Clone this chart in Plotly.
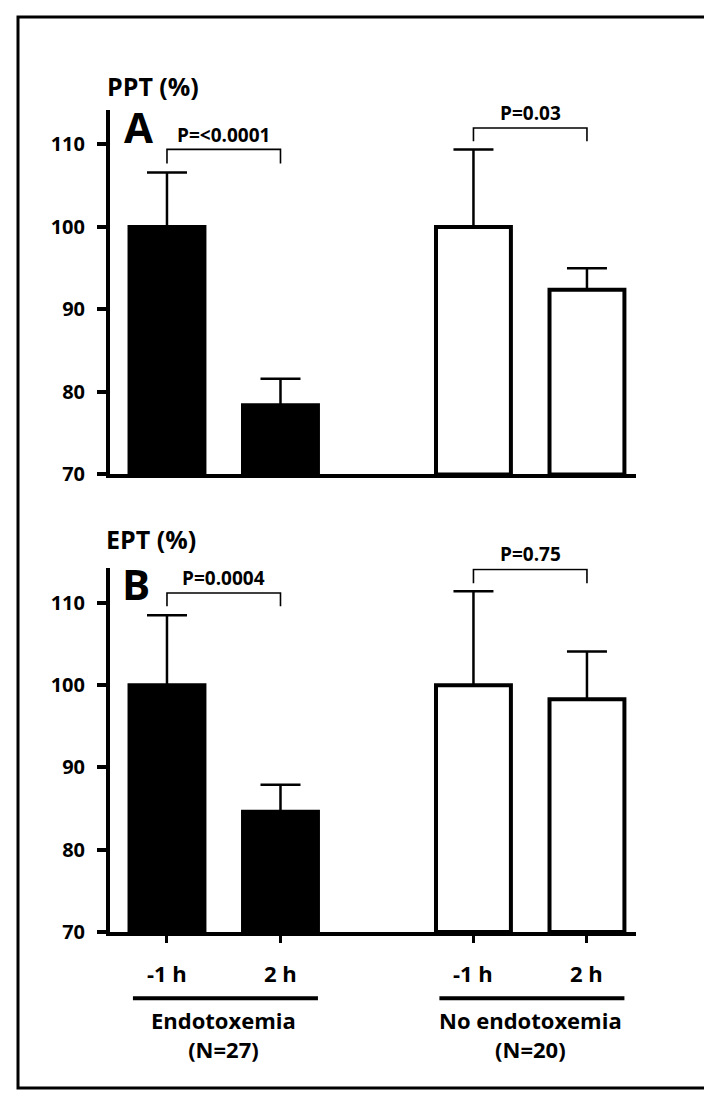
import plotly.graph_objects as go

# ---------------- data ----------------
time_labels = ["-1 h", "2 h", "-1 h", "2 h"]
group_labels = ["Endotoxemia<br>(N=27)", "No endotoxemia<br>(N=20)"]
bar_pos = [1, 2, 3.7, 4.7]
bar_colors = ["black", "black", "white", "white"]

ppt_mean = [100, 78.4, 100, 92.4]
ppt_err = [6.6, 3.2, 9.4, 2.6]

ept_mean = [100, 84.6, 100, 98.3]
ept_err = [8.5, 3.3, 11.4, 5.8]

p_ppt = ["P=<0.0001", "P=0.03"]
p_ept = ["P=0.0004", "P=0.75"]

y_ticks = [70, 80, 90, 100, 110]

# ---------------- layout constants ----------------
W, H = 712, 1103
FONT = "Open Sans"
x_dom = [102 / W, 628 / W]
top_dom = [1 - 472 / H, 1 - 103 / H]
bot_dom = [1 - 935 / H, 1 - 567 / H]
x_rng = [0.498, 5.132]
y_rng = [70, 114.2]


def dom_frac(v):
    return (v - y_rng[0]) / (y_rng[1] - y_rng[0])


def fnt(size):
    return dict(family=FONT, size=size, color="black", weight="bold")


fig = go.Figure()

for mean, err, xa, ya in [(ppt_mean, ppt_err, "x", "y"), (ept_mean, ept_err, "x2", "y2")]:
    fig.add_trace(go.Bar(
        x=bar_pos, y=[m - 70 for m in mean], base=70,
        width=0.66,
        marker=dict(color=bar_colors, line=dict(color="black", width=4)),
        error_y=dict(type="data", symmetric=False, array=err,
                     arrayminus=[0] * len(err), color="black",
                     thickness=2.5, width=20),
        xaxis=xa, yaxis=ya, showlegend=False, hoverinfo="skip",
    ))

axis_common = dict(showline=True, linecolor="black", linewidth=4,
                   showgrid=False, zeroline=False)
yaxis_common = dict(range=y_rng, tickvals=y_ticks, ticks="outside", ticklen=9,
                    tickwidth=4, tickcolor="black", ticklabelstandoff=8,
                    tickfont=fnt(20), **axis_common)

fig.update_layout(
    width=W, height=H,
    margin=dict(l=0, r=0, t=0, b=0),
    paper_bgcolor="white", plot_bgcolor="white",
    font=dict(family=FONT, color="black", weight="bold"),
    xaxis=dict(domain=x_dom, range=x_rng, anchor="y", showticklabels=False,
               ticks="", **axis_common),
    yaxis=dict(domain=top_dom, anchor="x", **yaxis_common),
    xaxis2=dict(domain=x_dom, range=x_rng, anchor="y2", tickvals=bar_pos,
                ticks="outside", ticklen=7, tickwidth=3, tickcolor="black",
                showticklabels=False, **axis_common),
    yaxis2=dict(domain=bot_dom, anchor="x2", **yaxis_common),
)

shapes = []
annotations = []

# significance brackets
bracket_specs = [
    ("x", "y", p_ppt, [(109.4, 107.7, 111.1), (112.0, 110.4, 113.8)]),
    ("x2", "y2", p_ept, [(111.2, 109.6, 113.0), (114.05, 112.4, 115.9)]),
]
for xr, yr, ptxt, specs in bracket_specs:
    for k, (yh, yl, yt) in enumerate(specs):
        a, b = bar_pos[2 * k], bar_pos[2 * k + 1]
        shapes.append(dict(type="path", xref=xr, yref=yr,
                           path=f"M {a} {yl} L {a} {yh} L {b} {yh} L {b} {yl}",
                           line=dict(color="black", width=1.6)))
        annotations.append(dict(x=(a + b) / 2, y=dom_frac(yt), xref=xr,
                                yref=yr + " domain",
                                text=ptxt[k], showarrow=False, font=fnt(19),
                                xanchor="center", yanchor="middle"))

# panel letters
annotations.append(dict(x=0.745, y=dom_frac(112.2), xref="x", yref="y domain",
                        text="A", showarrow=False, font=fnt(42),
                        xanchor="center", yanchor="middle"))
annotations.append(dict(x=0.73, y=dom_frac(112.3), xref="x2", yref="y2 domain",
                        text="B", showarrow=False, font=fnt(42),
                        xanchor="center", yanchor="middle"))

# y titles
annotations.append(dict(x=97 / W, y=1 - 79 / H, xref="paper", yref="paper", text="PPT (%)",
                        showarrow=False, xanchor="left", yanchor="middle", font=fnt(25)))
annotations.append(dict(x=96 / W, y=1 - 537 / H, xref="paper", yref="paper", text="EPT (%)",
                        showarrow=False, xanchor="left", yanchor="middle", font=fnt(25)))

# x tick labels (time points)
for p, t in zip(bar_pos, time_labels):
    annotations.append(dict(x=p, y=1 - 977 / H, xref="x2", yref="paper", text=t,
                            showarrow=False, xanchor="center", yanchor="middle",
                            font=fnt(22)))

# group lines and labels
for g in range(2):
    a, b = bar_pos[2 * g], bar_pos[2 * g + 1]
    shapes.append(dict(type="line", xref="x2", yref="paper",
                       x0=a - 0.3, x1=b + 0.33, y0=1 - 1002 / H, y1=1 - 1002 / H,
                       line=dict(color="black", width=4)))
    annotations.append(dict(x=(a + b) / 2, y=1 - 1039 / H, xref="x2", yref="paper",
                            text=group_labels[g], showarrow=False,
                            xanchor="center", yanchor="middle", font=fnt(22)))

# outer frame
shapes.append(dict(type="rect", xref="paper", yref="paper",
                   x0=10 / W, x1=703 / W, y0=1 - 1093 / H, y1=1 - 9 / H,
                   line=dict(color="black", width=3)))

fig.update_layout(shapes=shapes, annotations=annotations)
fig.write_html("out.html")
